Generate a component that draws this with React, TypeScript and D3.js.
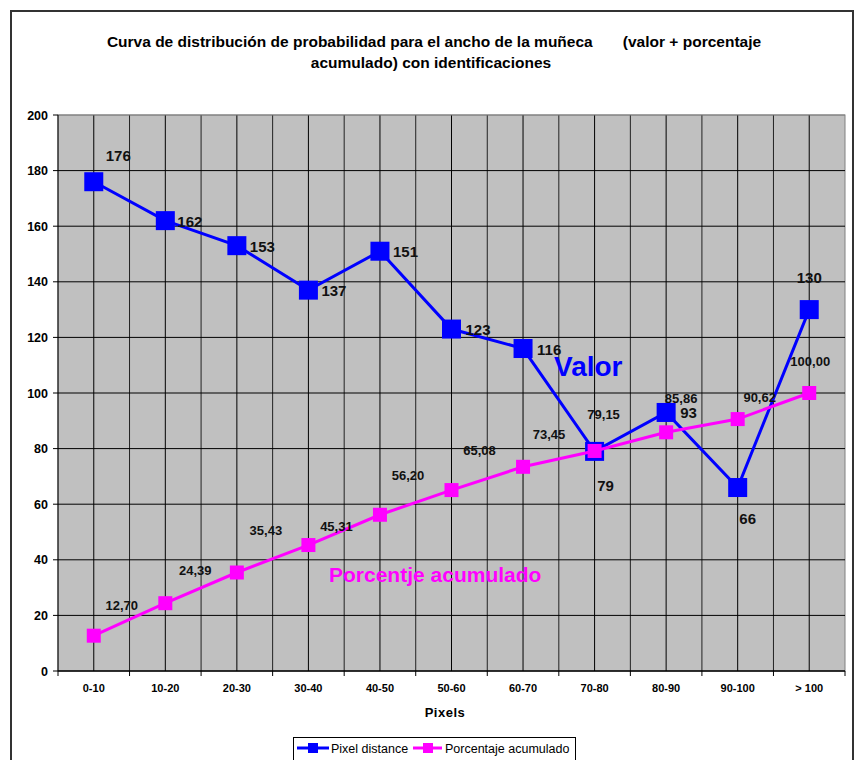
import React from "react";
import * as d3 from "d3";

// Wrist-width bins (pixels)
const categories = ["0-10", "10-20", "20-30", "30-40", "40-50", "50-60", "60-70", "70-80", "80-90", "90-100", "> 100"];
// Count per bin
const pixelDistance = [176, 162, 153, 137, 151, 123, 116, 79, 93, 66, 130];
// Cumulative percentage per bin
const porcentajeAcumulado = [12.7, 24.39, 35.43, 45.31, 56.2, 65.08, 73.45, 79.15, 85.86, 90.62, 100.0];
const yTicks = [0, 20, 40, 60, 80, 100, 120, 140, 160, 180, 200];

const W = 858;
const H = 760;
const plot = { left: 58, right: 845, top: 115, bottom: 671 };
const BLUE = "#0000FF";
const PINK = "#FF00FF";
const FONT = "'Liberation Sans', Arial, sans-serif";

// Placement of the value labels relative to their markers: [dx, dy, anchor]
const valueLabelPlacement: [number, number, string][] = [
  [12, -21, "start"],
  [12, 6, "start"],
  [13, 6, "start"],
  [13, 6, "start"],
  [13, 6, "start"],
  [14, 6, "start"],
  [14, 6, "start"],
  [11, 40, "middle"],
  [14, 6, "start"],
  [10, 36, "middle"],
  [0, -27, "middle"],
];
const pctLabelPlacement: [number, number][] = [
  [28, -26], [30, -28], [29, -38], [28, -14], [28, -35], [28, -35],
  [26, -28], [9, -32], [15, -29], [22, -17], [1, -27],
];

const fmtPct = (v: number) => v.toFixed(2).replace(".", ",");

export default function App() {
  const x = d3.scaleBand<string>().domain(categories).range([plot.left, plot.right]).padding(0);
  const y = d3.scaleLinear().domain([0, 200]).range([plot.bottom, plot.top]);
  const cx = (c: string) => (x(c) as number) + x.bandwidth() / 2;

  const line = d3
    .line<[string, number]>()
    .x((d) => cx(d[0]))
    .y((d) => y(d[1]));

  const bluePts: [string, number][] = categories.map((c, i) => [c, pixelDistance[i]]);
  const pinkPts: [string, number][] = categories.map((c, i) => [c, porcentajeAcumulado[i]]);

  const boundaries = categories.map((c) => x(c) as number).concat([plot.right]);

  return (
    <svg
      width={W}
      height={H}
      style={{ position: "absolute", left: 0, top: 0, background: "#fff" }}
      fontFamily={FONT}
    >
      {/* chart frame */}
      <rect x={11} y={11} width={842} height={800} fill="#fff" stroke="#333" strokeWidth={2} />

      {/* title */}
      <text x={434} y={47} textAnchor="middle" fontSize={15.5} fontWeight="bold" style={{ whiteSpace: "pre" }}>
        {"Curva de distribución de probabilidad para el ancho de la muñeca       (valor + porcentaje"}
      </text>
      <text x={431} y={68} textAnchor="middle" fontSize={15.5} fontWeight="bold">
        acumulado) con identificaciones
      </text>

      {/* plot area */}
      <rect
        x={plot.left}
        y={plot.top}
        width={plot.right - plot.left}
        height={plot.bottom - plot.top}
        fill="#C0C0C0"
        stroke="#808080"
        strokeWidth={1}
      />

      {/* vertical gridlines at bin boundaries and bin centres */}
      {boundaries.slice(1, -1).map((bx, i) => (
        <line key={"vb" + i} x1={bx} x2={bx} y1={plot.top} y2={plot.bottom} stroke="#222" strokeWidth={1} />
      ))}
      {categories.map((c) => (
        <line key={"vc" + c} x1={cx(c)} x2={cx(c)} y1={plot.top} y2={plot.bottom} stroke="#000" strokeWidth={1} />
      ))}
      {/* horizontal gridlines */}
      {yTicks.slice(1, -1).map((t) => (
        <line key={"h" + t} x1={plot.left} x2={plot.right} y1={y(t)} y2={y(t)} stroke="#000" strokeWidth={1} />
      ))}
      <line x1={plot.left} x2={plot.right} y1={plot.top} y2={plot.top} stroke="#808080" />

      {/* axes */}
      <line x1={plot.left} x2={plot.left} y1={plot.top} y2={plot.bottom} stroke="#000" strokeWidth={1} />
      <line x1={plot.left} x2={plot.right} y1={plot.bottom} y2={plot.bottom} stroke="#000" strokeWidth={1.5} />
      {yTicks.map((t) => (
        <g key={"yt" + t}>
          <line x1={plot.left - 5} x2={plot.left} y1={y(t)} y2={y(t)} stroke="#000" />
          <text x={plot.left - 10} y={y(t) + 4.5} textAnchor="end" fontSize={12.5} fontWeight="bold">
            {t}
          </text>
        </g>
      ))}
      {boundaries.map((bx, i) => (
        <line key={"xt" + i} x1={bx} x2={bx} y1={plot.bottom} y2={plot.bottom + 5} stroke="#000" />
      ))}
      {categories.map((c) => (
        <text key={"xl" + c} x={cx(c)} y={692} textAnchor="middle" fontSize={11} fontWeight="bold">
          {c}
        </text>
      ))}
      <text x={445} y={717} textAnchor="middle" fontSize={13} fontWeight="bold" letterSpacing={0.5}>
        Pixels
      </text>

      {/* Pixel distance series */}
      <path d={line(bluePts) as string} fill="none" stroke={BLUE} strokeWidth={3} />
      {bluePts.map((d) => (
        <rect key={"bm" + d[0]} x={cx(d[0]) - 9.5} y={y(d[1]) - 9.5} width={19} height={19} fill={BLUE} />
      ))}

      {/* Porcentaje acumulado series */}
      <path d={line(pinkPts) as string} fill="none" stroke={PINK} strokeWidth={3} />
      {pinkPts.map((d) => (
        <rect key={"pm" + d[0]} x={cx(d[0]) - 7} y={y(d[1]) - 7} width={14} height={14} fill={PINK} />
      ))}

      {/* value labels */}
      {bluePts.map((d, i) => {
        const [dx, dy, anchor] = valueLabelPlacement[i];
        return (
          <text
            key={"bl" + d[0]}
            x={cx(d[0]) + dx}
            y={y(d[1]) + dy}
            textAnchor={anchor}
            fontSize={15}
            fontWeight="bold"
            fill="#111"
          >
            {d[1]}
          </text>
        );
      })}
      {pinkPts.map((d, i) => {
        const [dx, dy] = pctLabelPlacement[i];
        return (
          <text
            key={"pl" + d[0]}
            x={cx(d[0]) + dx}
            y={y(d[1]) + dy}
            textAnchor="middle"
            fontSize={13}
            fontWeight="bold"
            fill="#111"
          >
            {fmtPct(d[1])}
          </text>
        );
      })}

      {/* series annotations */}
      <text x={554} y={376} fontSize={28} fontWeight="bold" fill={BLUE}>
        Valor
      </text>
      <text x={329} y={582} fontSize={21} fontWeight="bold" fill={PINK}>
        Porcentje acumulado
      </text>

      {/* legend */}
      <rect x={293.5} y={737.5} width={282} height={30} fill="#fff" stroke="#000" />
      <line x1={297} x2={329} y1={748} y2={748} stroke={BLUE} strokeWidth={3} />
      <rect x={308} y={743} width={10} height={10} fill={BLUE} />
      <text x={331} y={753} fontSize={12.5}>
        Pixel distance
      </text>
      <line x1={413} x2={442} y1={748} y2={748} stroke={PINK} strokeWidth={3} />
      <rect x={423} y={743} width={10} height={10} fill={PINK} />
      <text x={445} y={753} fontSize={12.5}>
        Porcentaje acumulado
      </text>
    </svg>
  );
}
